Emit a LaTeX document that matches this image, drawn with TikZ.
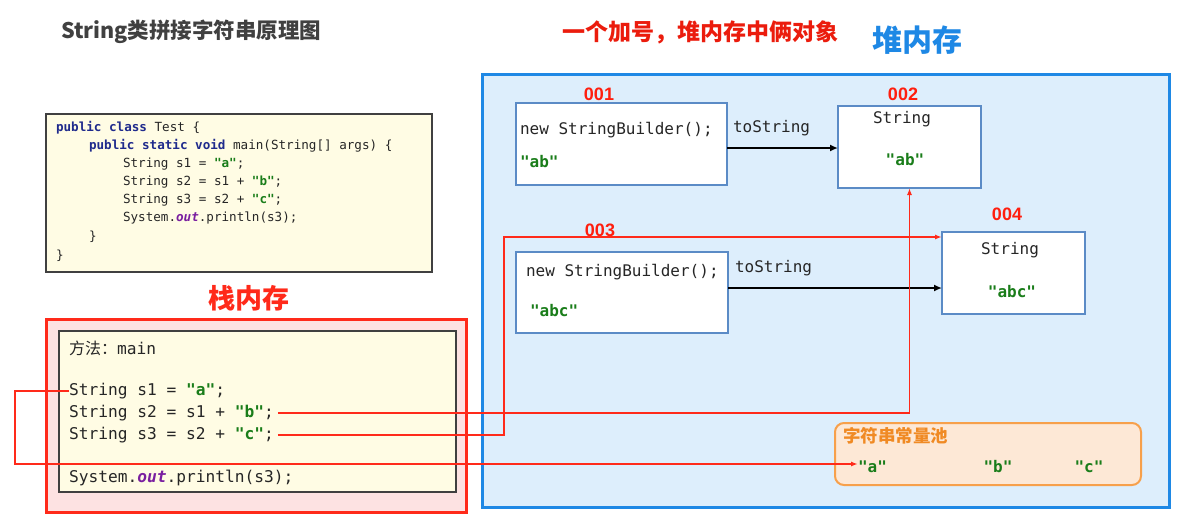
\documentclass[tikz,border=0pt]{standalone}
\usepackage{fontspec}
\usetikzlibrary{arrows.meta}
\setmainfont{Liberation Sans}
\setmonofont{DejaVu Sans Mono}
\newfontfamily\cjk{Noto Sans CJK SC}
\newfontfamily\lbl{Liberation Sans}
\definecolor{codebg}{HTML}{FFFCE4}
\definecolor{stackbg}{HTML}{FDE2E2}
\definecolor{stackbd}{HTML}{FF2A1A}
\definecolor{heapbg}{HTML}{DDEEFC}
\definecolor{heapbd}{HTML}{1E88E5}
\definecolor{boxbd}{HTML}{5B8BC6}
\definecolor{poolbg}{HTML}{FDE8D6}
\definecolor{poolbd}{HTML}{F7A04B}
\definecolor{pooltx}{HTML}{F08A24}
\definecolor{strgreen}{HTML}{1A7D1A}
\definecolor{kwblue}{HTML}{1F2A8C}
\definecolor{outpurple}{HTML}{7A1FA0}
\definecolor{redtx}{HTML}{FF1E0E}
\definecolor{titlegray}{HTML}{404040}
\newcommand{\kw}[1]{\textcolor{kwblue}{\bfseries #1}}
\newcommand{\str}[1]{\textcolor{strgreen}{\bfseries #1}}
\newcommand{\outw}{\textcolor{outpurple}{\bfseries\itshape out}}
\tikzset{
  every node/.style={inner sep=0pt, outer sep=0pt},
  codetxt/.style={anchor=west, font=\fontsize{12.6}{14}\ttfamily, text=black!85},
  stacktxt/.style={anchor=west, font=\fontsize{16.2}{18}\ttfamily, text=black!85},
  heaptxt/.style={anchor=west, font=\fontsize{16}{18}\ttfamily, text=black!85},
  objbox/.style={draw=boxbd, line width=2pt, fill=white, anchor=north west},
  addr/.style={font=\lbl\fontsize{18}{20}\selectfont\bfseries, text=redtx},
  refline/.style={draw=stackbd, line width=1.4pt},
  reftip/.style={-{Latex[length=7pt,width=5pt]}},
  blkarrow/.style={draw=black, line width=2pt, -{Latex[length=8pt,width=7pt]}},
  greentxt/.style={font=\fontsize{16}{18}\ttfamily\bfseries, text=strgreen},
}
\begin{document}
\begin{tikzpicture}[x=1pt,y=-1pt]
\useasboundingbox (0,0) rectangle (1181,525);
\fill[white] (0,0) rectangle (1181,525);

% titles
\node[anchor=west, font=\cjk\fontsize{21.5}{23}\selectfont\bfseries, text=titlegray] (title) at (61,32) {String类拼接字符串原理图};
\node[anchor=west, font=\cjk\fontsize{23}{25}\selectfont\bfseries, text=redtx!92!black] (note) at (562,32) {一个加号，堆内存中俩对象};
\node[anchor=west, font=\cjk\fontsize{30}{32}\selectfont\bfseries, text=heapbd] (heaptitle) at (872,40) {堆内存};

% code box
\node[draw=black!75, line width=1.2pt, fill=codebg, minimum width=386pt, minimum height=158pt, anchor=north west] (code) at (46,114) {};
\node[codetxt] (c1) at (56,128) {\kw{public class} Test \{};
\node[codetxt] (c2) at (89,146) {\kw{public static void} main(String[] args) \{};
\node[codetxt] (c3) at (123,164) {String s1 = \str{"a"};};
\node[codetxt] (c4) at (123,182) {String s2 = s1 + \str{"b"};};
\node[codetxt] (c5) at (123,200) {String s3 = s2 + \str{"c"};};
\node[codetxt] (c6) at (123,218) {System.\outw.println(s3);};
\node[codetxt] (c7) at (89,237) {\}};
\node[codetxt] (c8) at (56,256) {\}};

% stack
\node[font=\cjk\fontsize{27}{29}\selectfont\bfseries, text=stackbd] (stacktitle) at (249,298) {栈内存};
\node[draw=stackbd, line width=3pt, fill=stackbg, minimum width=420pt, minimum height=193pt, anchor=north west] (stack) at (46.5,319.5) {};
\node[draw=black!75, line width=1.2pt, fill=codebg, minimum width=397pt, minimum height=161pt, anchor=north west] (frame) at (59,331) {};
\node[stacktxt] (m) at (69,348) {{\cjk\fontsize{16}{18}\selectfont 方法：}main};
\node[stacktxt] (s1) at (69,391) {String s1 = \str{"a"};};
\node[stacktxt] (s2) at (69,413) {String s2 = s1 + \str{"b"};};
\node[stacktxt] (s3) at (69,435) {String s3 = s2 + \str{"c"};};
\node[stacktxt] (pr) at (69,478) {System.\outw.println(s3);};

% heap
\node[draw=heapbd, line width=3pt, fill=heapbg, minimum width=687pt, minimum height=433pt, anchor=north west] (heap) at (482.5,74.5) {};

\node[objbox, minimum width=211pt, minimum height=82pt] (b001) at (516,103) {};
\node[addr] (l001) at (599,94) {001};
\node[heaptxt] (sb1) at (520,130) {new StringBuilder();};
\node[greentxt, anchor=west] (ab1) at (520,162) {"ab"};

\node[objbox, minimum width=143pt, minimum height=82pt] (b002) at (838,106) {};
\node[addr] (l002) at (903,94) {002};
\node[heaptxt, anchor=center] (st2) at (902,119) {String};
\node[greentxt] (ab2) at (905,160) {"ab"};

\node[objbox, minimum width=212pt, minimum height=81pt] (b003) at (516,252) {};
\node[addr] (l003) at (600,230) {003};
\node[heaptxt] (sb3) at (526,272) {new StringBuilder();};
\node[greentxt, anchor=west] (abc3) at (530,311) {"abc"};

\node[objbox, minimum width=143pt, minimum height=82pt] (b004) at (942,232) {};
\node[addr] (l004) at (1007,214) {004};
\node[heaptxt, anchor=center] (st4) at (1010,250) {String};
\node[greentxt] (abc4) at (1012,292) {"abc"};

\node[heaptxt] (ts1) at (733,128) {toString};
\node[heaptxt] (ts3) at (735,268) {toString};
\draw[blkarrow] (b001.east |- 0,148) -- (b002.west |- 0,148);
\draw[blkarrow] (b003.east |- 0,288) -- (b004.west |- 0,288);

% string pool
\node[draw=poolbd, line width=2pt, fill=poolbg, rounded corners=9pt, minimum width=306pt, minimum height=62pt, anchor=north west] (pool) at (835,423) {};
\node[anchor=west, font=\cjk\fontsize{17.5}{19}\selectfont\bfseries, text=pooltx] (pooltitle) at (843,436) {字符串常量池};
\node[greentxt, anchor=west] (pa) at (858,467) {"a"};
\node[greentxt] (pb) at (998,467) {"b"};
\node[greentxt] (pc) at (1089,467) {"c"};

% references
\coordinate (k1) at (15,391);
\coordinate (k3) at (504,237);
\draw[refline, reftip] (s1.west) -- (k1) |- ([yshift=3pt]pa.west);
\draw[refline, reftip] ([xshift=4pt]s2.east) -| (b002.south);
\draw[refline, reftip] ([xshift=4pt]s3.east) -| (k3) -- (b004.west |- k3);
\end{tikzpicture}
\end{document}
